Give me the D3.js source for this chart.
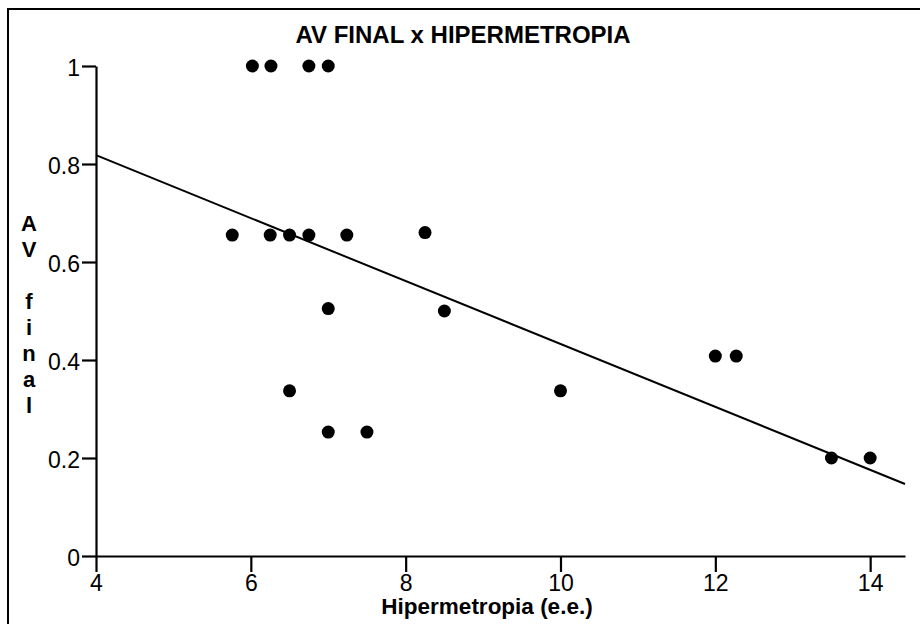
<!DOCTYPE html>
<html>
<head>
<meta charset="utf-8">
<script src="https://cdn.jsdelivr.net/npm/d3@7/dist/d3.min.js"></script>
<style>
  html, body { margin: 0; padding: 0; background: #fff; }
  svg { display: block; font-family: "Liberation Sans", Arial, Helvetica, sans-serif; }
</style>
</head>
<body>
<svg id="chart" width="920" height="624"></svg>
<script>
// ---- data ----
const title = "AV FINAL x HIPERMETROPIA";
const xLabel = "Hipermetropia (e.e.)";
const yLabelLetters = ["A", "V", "", "f", "i", "n", "a", "l"];
const xTicks = [4, 6, 8, 10, 12, 14];
const yTicks = [0, 0.2, 0.4, 0.6, 0.8, 1];
const hiper = [6.02, 6.26, 6.75, 7.0, 5.76, 6.25, 6.5, 6.75, 7.24, 8.25, 7.0, 8.5, 6.5, 10.0, 7.0, 7.5, 12.0, 12.27, 13.5, 14.0];
const avFinal = [1.0, 1.0, 1.0, 1.0, 0.655, 0.655, 0.655, 0.655, 0.655, 0.66, 0.505, 0.5, 0.337, 0.337, 0.253, 0.253, 0.408, 0.408, 0.2, 0.2];
const fitX = [4, 14.45];
const fitY = [0.818, 0.147];

// ---- chart ----
const svg = d3.select("#chart");
svg.append("rect").attr("width", 920).attr("height", 624).attr("fill", "#fff");

// frame (top and left edges visible)
svg.append("path")
  .attr("d", "M8,624 L8,9 L920,9")
  .attr("fill", "none").attr("stroke", "#000").attr("stroke-width", 2);

const x = d3.scaleLinear().domain([4, 14.45]).range([96, 905]);
const y = d3.scaleLinear().domain([0, 1]).range([556, 66]);

const fmtY = d => (d === 0 ? "0" : d === 1 ? "1" : d3.format(".1f")(d));

const yAxis = svg.append("g").attr("transform", "translate(96,0)")
  .call(d3.axisLeft(y).tickValues(yTicks).tickFormat(fmtY).tickSize(14).tickSizeOuter(0).tickPadding(2));
const xAxis = svg.append("g").attr("transform", "translate(0,556)")
  .call(d3.axisBottom(x).tickValues(xTicks).tickSize(16).tickSizeOuter(0).tickPadding(2));

[xAxis, yAxis].forEach(g => {
  g.selectAll("path, line").attr("stroke", "#000").attr("stroke-width", 2.2);
  g.selectAll("text").attr("fill", "#000").style("font-size", "23px")
    .style("font-family", "'Liberation Sans', Arial, Helvetica, sans-serif");
});
yAxis.selectAll("text").attr("dy", "0.4em");
xAxis.selectAll("text").attr("dy", "0.72em");

// regression line
svg.append("line")
  .attr("x1", x(fitX[0])).attr("y1", y(fitY[0]))
  .attr("x2", x(fitX[1])).attr("y2", y(fitY[1]))
  .attr("stroke", "#000").attr("stroke-width", 2);

// points
svg.append("g").selectAll("circle")
  .data(hiper.map((h, i) => [h, avFinal[i]]))
  .join("circle")
  .attr("cx", d => x(d[0])).attr("cy", d => y(d[1]))
  .attr("r", 6.5).attr("fill", "#000");

// title
svg.append("text")
  .attr("x", 463).attr("y", 43).attr("text-anchor", "middle")
  .style("font-size", "24px").style("font-weight", "bold").text(title);

// x label
svg.append("text")
  .attr("x", 487).attr("y", 614).attr("text-anchor", "middle")
  .style("font-size", "22.5px").style("font-weight", "bold")
  .text(xLabel);

// y label (stacked letters)
svg.append("g").selectAll("text")
  .data(yLabelLetters)
  .join("text")
  .attr("x", 29).attr("y", (d, i) => 231 + i * 26)
  .attr("text-anchor", "middle")
  .style("font-size", "22px").style("font-weight", "bold")
  .text(d => d);
</script>
</body>
</html>
